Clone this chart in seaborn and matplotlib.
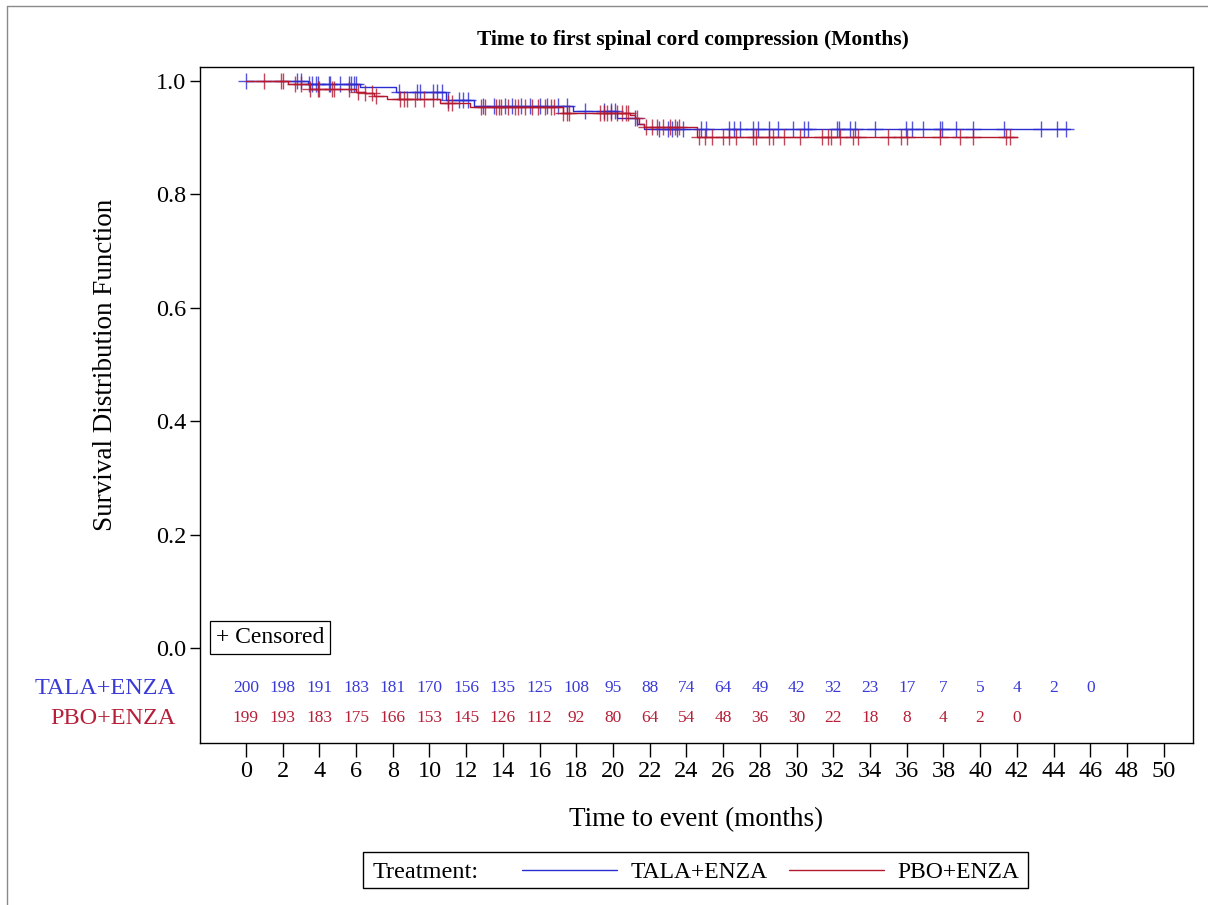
import matplotlib.pyplot as plt
from matplotlib.lines import Line2D
from matplotlib.patches import Rectangle
import numpy as np
import seaborn as sns

colors = {"tala": "#2b2bd2", "pbo": "#b3182f",
          "tala_txt": "#3a3ad6", "pbo_txt": "#b51f38"}

# Kaplan-Meier step levels (months, survival)
tala_step_t = [0, 3.4, 6.2, 8.2, 10.9, 12.4, 17.8, 20.2, 21.3, 21.7]
tala_step_s = [1.0, 0.994, 0.989, 0.980, 0.967, 0.955, 0.947, 0.934, 0.925, 0.915]
tala_end = 44.9
tala_cens = [0.0, 2.8, 3.0, 3.45, 3.6, 3.8, 3.9, 4.5, 4.6, 5.1, 5.6, 5.7, 5.9, 6.0,
             8.35, 9.3, 9.5, 10.2, 10.4, 10.7, 11.0, 11.6, 11.8, 12.1, 12.9, 13.5,
             14.1, 14.5, 15.0, 15.5, 16.0, 16.4, 17.0, 17.5, 18.5, 19.5, 19.9, 20.1,
             21.2, 22.5, 23.0, 23.2, 23.5, 23.8, 24.8, 25.05, 26.3, 26.6, 26.9, 27.6,
             27.9, 28.5, 29.0, 29.8, 30.4, 30.6, 32.2, 32.3, 32.9, 33.2, 34.3, 35.95,
             36.3, 36.9, 37.8, 37.9, 38.7, 39.6, 41.3, 43.3, 44.2, 44.7]

pbo_step_t = [0, 2.3, 3.5, 6.0, 6.5, 7.0, 7.7, 10.6, 12.2, 17.3, 20.9, 21.2, 21.4, 21.7, 24.6]
pbo_step_s = [1.0, 0.994, 0.986, 0.981, 0.978, 0.974, 0.968, 0.961, 0.954, 0.944,
              0.940, 0.934, 0.925, 0.918, 0.901]
pbo_end = 42.0
pbo_cens = [1.0, 1.9, 2.0, 2.7, 3.0, 3.5, 3.9, 4.0, 4.7, 4.8, 5.6, 6.1, 6.5, 6.85, 7.1,
            8.4, 8.6, 8.8, 9.2, 9.7, 10.2, 11.0, 11.2, 12.8, 13.0, 13.65, 13.8, 13.9,
            14.3, 14.65, 14.8, 15.2, 15.6, 15.9, 16.3, 16.6, 16.8, 17.3, 17.5, 17.6,
            19.3, 19.5, 19.65, 19.9, 20.2, 20.5, 20.7, 20.8, 21.3, 21.8, 22.1, 22.4,
            22.7, 23.1, 23.4, 23.6, 24.7, 25.0, 25.4, 26.0, 26.3, 26.7, 27.6, 27.8,
            28.5, 28.7, 29.3, 30.2, 31.4, 31.7, 31.9, 32.35, 33.1, 33.35, 35.0, 35.7,
            36.0, 37.8, 38.9, 39.6, 41.4, 41.65]

# Number at risk
risk_t_tala = list(range(0, 48, 2))
risk_tala = [200, 198, 191, 183, 181, 170, 156, 135, 125, 108, 95, 88, 74, 64, 49,
             42, 32, 23, 17, 7, 5, 4, 2, 0]
risk_t_pbo = list(range(0, 44, 2))
risk_pbo = [199, 193, 183, 175, 166, 153, 145, 126, 112, 92, 80, 64, 54, 48, 36,
            30, 22, 18, 8, 4, 2, 0]

sns.set_style("white")
plt.rcParams["font.family"] = ["Liberation Serif", "DejaVu Serif"]
plt.rcParams["text.color"] = "black"
plt.rcParams["axes.labelcolor"] = "black"

fig = plt.figure(figsize=(12.08, 9.05), dpi=100)
ax = fig.add_axes([0.1656, 0.179, 0.822, 0.747])


def draw_arm(step_t, step_s, end, cens, color, label):
    t = np.array(step_t + [end])
    s = np.array(step_s + [step_s[-1]])
    sns.lineplot(x=t, y=s, drawstyle="steps-post", color=color, lw=1.0,
                 ax=ax, label=label, legend=False, errorbar=None, sort=False)
    idx = np.searchsorted(np.array(step_t), np.array(cens), side="right") - 1
    ax.plot(cens, np.array(step_s)[idx], ls="none", marker="+", ms=11, mew=1.0,
            color=color, alpha=0.8)


draw_arm(tala_step_t, tala_step_s, tala_end, tala_cens, colors["tala"], "TALA+ENZA")
draw_arm(pbo_step_t, pbo_step_s, pbo_end, pbo_cens, colors["pbo"], "PBO+ENZA")

# Axes range and ticks
ax.set_xlim(-2.5, 51.6)
ax.set_ylim(-0.1675, 1.0247)
ax.set_xticks(np.arange(0, 51, 2))
ax.set_yticks(np.arange(0, 1.01, 0.2))
ax.set_yticklabels([f"{v:.1f}" for v in np.arange(0, 1.01, 0.2)])
ax.tick_params(axis="x", direction="out", length=10, width=1, labelsize=17.5,
               pad=3, bottom=True, colors="black")
ax.tick_params(axis="y", direction="out", length=7, width=1, labelsize=17.5,
               pad=3, left=True, colors="black")
for sp in ax.spines.values():
    sp.set_color("black")
    sp.set_linewidth(1.0)

ax.set_xlabel("Time to event (months)", fontsize=19.5)
ax.xaxis.set_label_coords(0.5, -0.113)
ax.xaxis.label.set_va("center")
ax.set_ylabel("Survival Distribution Function", fontsize=19.5)
ax.yaxis.set_label_coords(-0.0957, 0.559)
ax.yaxis.label.set_va("center")

fig.text(0.574, 0.956, "Time to first spinal cord compression (Months)",
         ha="center", va="center", fontsize=15.5, fontweight="bold")

# Number-at-risk rows
for x, n in zip(risk_t_tala, risk_tala):
    ax.text(x, -0.0705, str(n), ha="center", va="center", fontsize=12.5,
            color=colors["tala_txt"])
for x, n in zip(risk_t_pbo, risk_pbo):
    ax.text(x, -0.1235, str(n), ha="center", va="center", fontsize=12.5,
            color=colors["pbo_txt"])
ax.text(-0.025, -0.0705, "TALA+ENZA", transform=ax.get_yaxis_transform(),
        ha="right", va="center", fontsize=17.5, color=colors["tala_txt"])
ax.text(-0.025, -0.1235, "PBO+ENZA", transform=ax.get_yaxis_transform(),
        ha="right", va="center", fontsize=17.5, color=colors["pbo_txt"])

# Censored key
ax.text(0.016, 0.019, "+ Censored", transform=ax.get_yaxis_transform(),
        ha="left", va="center", fontsize=17,
        bbox=dict(boxstyle="square,pad=0.25", fc="white", ec="black", lw=0.9))

# Bottom legend
fig.patches.append(Rectangle((363 / 1208, 1 - 888 / 905), 665 / 1208, 36 / 905,
                             transform=fig.transFigure, fill=False,
                             ec="black", lw=1.0))
fig.text(373 / 1208, 1 - 872 / 905, "Treatment:", ha="left", va="center",
         fontsize=17.5)
handles = [Line2D([], [], color=colors["tala"], lw=1.0),
           Line2D([], [], color=colors["pbo"], lw=1.0)]
fig.legend(handles, ["TALA+ENZA", "PBO+ENZA"], ncol=2, frameon=False,
           fontsize=17, handlelength=4.0, handletextpad=0.6, columnspacing=0.9,
           loc="center", bbox_to_anchor=(771 / 1208, 1 - 872 / 905))

# Outer grey frame lines
fig.add_artist(Line2D([7 / 1208, 7 / 1208], [0, 1 - 6 / 905],
                      transform=fig.transFigure, color="#8a8a8a", lw=1.0))
fig.add_artist(Line2D([7 / 1208, 1], [1 - 6 / 905, 1 - 6 / 905],
                      transform=fig.transFigure, color="#8a8a8a", lw=1.0))

fig.savefig("out.png", dpi=100)
